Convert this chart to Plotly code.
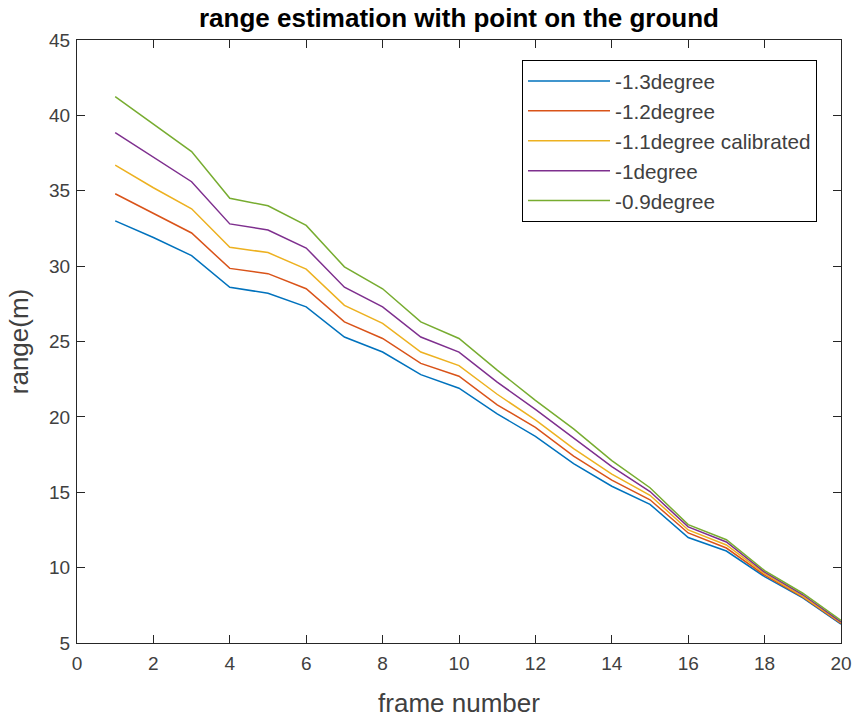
import plotly.graph_objects as go

frames = list(range(1, 21))
deg_m13 = [33.0, 31.9, 30.7, 28.6, 28.2, 27.3, 25.3, 24.3, 22.8, 21.9, 20.2, 18.7, 16.9, 15.4, 14.2, 12.0, 11.1, 9.4, 8.0, 6.25]
deg_m12 = [34.8, 33.5, 32.2, 29.85, 29.5, 28.5, 26.3, 25.2, 23.55, 22.7, 20.8, 19.3, 17.4, 15.8, 14.5, 12.3, 11.3, 9.5, 8.05, 6.3]
deg_m11 = [36.7, 35.2, 33.8, 31.25, 30.9, 29.8, 27.4, 26.2, 24.3, 23.4, 21.5, 19.8, 17.9, 16.2, 14.8, 12.5, 11.5, 9.6, 8.1, 6.35]
deg_m10 = [38.85, 37.2, 35.6, 32.8, 32.4, 31.2, 28.6, 27.3, 25.3, 24.3, 22.3, 20.5, 18.6, 16.7, 15.05, 12.7, 11.7, 9.7, 8.2, 6.4]
deg_m09 = [41.25, 39.4, 37.6, 34.5, 34.0, 32.7, 29.95, 28.5, 26.3, 25.2, 23.1, 21.1, 19.2, 17.1, 15.3, 12.85, 11.85, 9.8, 8.3, 6.5]

names = ["-1.3degree", "-1.2degree", "-1.1degree calibrated", "-1degree", "-0.9degree"]
series = [deg_m13, deg_m12, deg_m11, deg_m10, deg_m09]
colors = ["#0072BD", "#D95319", "#EDB120", "#7E2F8E", "#77AC30"]

fig = go.Figure()
for n, s, c in zip(names, series, colors):
    fig.add_trace(go.Scatter(x=frames, y=s, mode="lines", name=n,
                             line=dict(color=c, width=1.5)))

W, H = 856, 718
ml, mr, mt, mb = 77, 15, 40, 75
axis_color = "#262626"
label_color = "#404040"
font_family = "Liberation Sans, Arial, sans-serif"

fig.update_layout(
    width=W, height=H, autosize=False,
    margin=dict(l=ml, r=mr, t=mt, b=mb, autoexpand=False),
    paper_bgcolor="white", plot_bgcolor="white",
    font=dict(family=font_family, color=axis_color),
    title=dict(text="<b>range estimation with point on the ground</b>",
               x=(ml + (W - ml - mr) / 2) / W, xanchor="center",
               y=1 - 18 / H, yanchor="middle",
               font=dict(size=26, color="black")),
    legend=dict(x=(817 - ml) / (W - ml - mr), xanchor="right",
                y=(H - mb - 60) / (H - mb - mt), yanchor="top",
                bordercolor="black", borderwidth=1, bgcolor="white",
                font=dict(size=20.7, color=label_color),
                tracegroupgap=0, itemwidth=82),
    showlegend=True,
)
fig.update_xaxes(range=[0, 20], dtick=2, tick0=0, automargin=False,
                 showline=True, linecolor=axis_color, linewidth=1, mirror="ticks",
                 ticks="inside", ticklen=8, tickcolor=axis_color,
                 showgrid=False, zeroline=False, ticklabelstandoff=3,
                 tickfont=dict(size=19, color=label_color),
                 title=dict(text="frame number", font=dict(size=26, color=label_color), standoff=21))
fig.update_yaxes(range=[5, 45], dtick=5, tick0=5, automargin=False,
                 showline=True, linecolor=axis_color, linewidth=1, mirror="ticks",
                 ticks="inside", ticklen=8, tickcolor=axis_color,
                 showgrid=False, zeroline=False, ticklabelstandoff=2,
                 tickfont=dict(size=19, color=label_color),
                 title=dict(text="range(m)", font=dict(size=26, color=label_color), standoff=12))

fig.write_html("out.html")
